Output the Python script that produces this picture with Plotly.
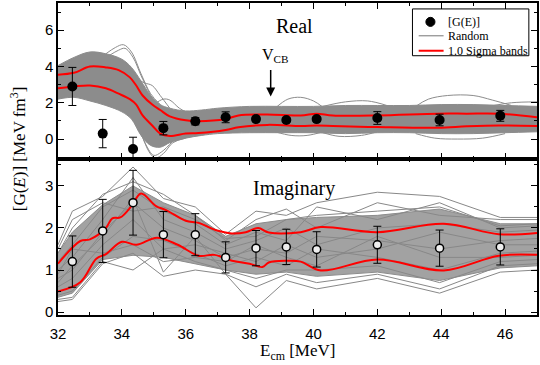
import plotly.graph_objects as go
from plotly.subplots import make_subplots

# measured points (energies shared by both panels)
energies = [32.45, 33.4, 34.35, 35.3, 36.3, 37.25, 38.2, 39.15, 40.1, 42.0, 43.95, 45.85]
real_vals = [2.9, 0.3, -0.55, 0.6, 0.98, 1.2, 1.1, 1.05, 1.1, 1.16, 1.05, 1.28]
real_errs = [1.05, 0.78, 0.65, 0.37, 0.2, 0.3, 0.12, 0.12, 0.12, 0.35, 0.32, 0.3]
imag_vals = [1.2, 1.93, 2.6, 1.84, 1.84, 1.3, 1.52, 1.55, 1.49, 1.6, 1.52, 1.55]
imag_errs = [0.61, 0.75, 0.77, 0.55, 0.5, 0.37, 0.42, 0.42, 0.42, 0.44, 0.43, 0.43]

# 1 sigma bands, real part
red_real_x = [32.0, 32.5, 33.0, 33.5, 33.9, 34.25, 34.45, 34.65, 34.95, 35.2, 35.5, 36.0, 36.4,
              37.25, 37.65, 38.55, 39.6, 40.1, 40.6, 42.0, 43.9, 44.8, 45.8, 47.0]
red_real_hi = [3.55, 3.65, 4.0, 3.95, 3.8, 3.4, 2.95, 2.4, 1.9, 1.6, 1.25, 1.03, 0.98,
               1.1, 1.3, 1.35, 1.3, 1.4, 1.3, 1.3, 1.4, 1.4, 1.4, 1.2]
red_real_lo = [2.8, 2.9, 2.95, 2.8, 2.5, 2.2, 1.9, 1.3, 0.75, 0.3, 0.17, 0.3, 0.33,
               0.5, 0.65, 0.78, 0.72, 0.74, 0.72, 0.66, 0.62, 0.7, 0.75, 0.72]

# 1 sigma bands, imaginary part
red_imag_hi_x = [32.0, 32.7, 33.0, 33.5, 33.7, 33.95, 34.3, 34.6, 35.07, 35.4, 36.0, 36.4, 36.93,
                 37.44, 37.88, 38.27, 38.6, 39.6, 40.23, 42.0, 44.08, 45.8, 47.0]
red_imag_hi = [1.15, 1.69, 1.73, 2.0, 2.23, 2.25, 2.52, 2.82, 2.52, 2.42, 2.17, 2.12, 1.95,
               1.87, 1.9, 2.0, 1.89, 1.9, 2.02, 1.9, 2.1, 1.85, 1.88]
red_imag_lo_x = [32.0, 32.7, 33.2, 33.5, 34.0, 34.45, 35.1, 35.75, 36.4, 36.9, 37.45, 38.0, 38.4,
                 38.6, 39.15, 39.6, 40.23, 42.0, 44.08, 45.8, 47.0]
red_imag_lo = [0.49, 0.71, 1.27, 1.38, 1.67, 1.6, 1.77, 1.6, 1.34, 1.36, 1.22, 1.15, 1.07,
               1.18, 1.22, 1.2, 0.99, 1.25, 0.99, 1.34, 1.36]

# dense part of the random curves, real part
band_real_x = [32.0, 32.5, 33.0, 33.5, 34.0, 34.3, 34.6, 34.9, 35.2, 35.5, 36.0, 36.5,
               37.0, 38.0, 39.0, 40.0, 41.0, 42.0, 43.0, 44.0, 45.0, 46.0, 47.0]
band_real_hi = [4.05, 4.5, 4.8, 4.7, 4.4, 3.95, 3.2, 2.4, 1.9, 1.7, 1.55, 1.6,
                1.7, 1.8, 1.8, 1.8, 1.85, 1.85, 1.85, 1.9, 1.9, 1.85, 1.8]
band_real_lo = [2.2, 2.3, 2.1, 1.85, 1.5, 1.1, 0.2, -0.35, -0.45, -0.2, 0.05, 0.2,
                0.3, 0.35, 0.35, 0.35, 0.3, 0.35, 0.35, 0.3, 0.3, 0.35, 0.4]

# individual random curves that stick out of the dense band (real part)
real_strays = [
    ([33.5, 33.8, 34.05, 34.3, 34.6, 34.9, 35.2], [4.7, 5.05, 5.2, 4.8, 3.6, 2.5, 1.9]),
    ([33.6, 33.9, 34.1, 34.35, 34.6, 34.9], [4.6, 4.9, 5.0, 4.5, 3.5, 2.4]),
    ([34.4, 34.7, 34.95, 35.2, 35.5], [3.4, 3.1, 2.95, 2.4, 1.7]),
    ([35.0, 35.3, 35.5, 35.8, 36.1], [1.9, 2.2, 2.15, 1.7, 1.4]),
    ([34.3, 34.6, 34.85, 35.05, 35.3, 35.6, 36.0], [1.2, 0.3, -0.7, -1.05, -0.8, -0.2, 0.05]),
    ([34.5, 34.75, 35.0, 35.25, 35.6], [0.8, -0.3, -0.9, -0.7, -0.1]),
    ([38.8, 39.2, 39.6, 40.0, 40.3], [1.7, 2.2, 2.3, 2.1, 1.75]),
    ([40.3, 41.0, 41.7, 42.3], [1.8, 2.05, 2.1, 1.85]),
    ([43.2, 43.6, 44.2, 45.0, 45.6, 46.2], [1.8, 2.2, 2.4, 2.4, 2.15, 1.85]),
    ([38.8, 39.3, 39.8, 40.3], [0.4, 0.2, 0.2, 0.4]),
    ([40.3, 40.8, 41.5, 42.0], [0.35, 0.15, 0.2, 0.4]),
    ([43.2, 43.8, 44.5, 45.3, 46.0], [0.3, 0.05, 0.0, 0.05, 0.3]),
    ([45.5, 46.2, 47.0], [1.8, 2.0, 2.05]),
]

# random curves, imaginary part (straight segments between the energies)
imag_x = [32.0, 32.45, 33.4, 34.35, 35.3, 36.3, 37.25, 38.2, 39.15, 40.1, 42.0, 43.95, 45.85, 47.0]
band_imag_hi = [1.4, 1.9, 2.55, 3.0, 2.6, 2.3, 1.8, 2.1, 2.2, 2.25, 2.3, 2.45, 2.1, 2.1]
band_imag_lo = [0.35, 0.45, 1.25, 1.35, 1.3, 1.15, 1.0, 0.9, 0.95, 0.85, 0.95, 0.75, 1.05, 1.1]
imag_curves = [
    [1.6, 2.4, 2.75, 3.45, 2.7, 2.5, 1.85, 2.4, 2.3, 2.6, 2.85, 2.75, 2.25, 2.25],
    [1.4, 2.0, 2.8, 3.1, 2.8, 2.3, 1.7, 2.2, 2.45, 2.0, 2.6, 2.3, 2.2, 2.2],
    [1.2, 1.6, 2.5, 2.9, 2.4, 2.1, 1.6, 1.9, 1.7, 2.5, 2.2, 2.6, 2.0, 2.05],
    [1.0, 1.3, 2.2, 3.2, 2.2, 1.9, 1.5, 1.7, 2.0, 1.6, 2.0, 2.1, 1.9, 1.95],
    [0.8, 1.0, 1.9, 2.6, 2.0, 1.7, 1.3, 1.5, 1.4, 1.8, 1.7, 1.5, 1.7, 1.75],
    [0.6, 0.8, 1.6, 2.2, 1.5, 1.6, 1.4, 1.2, 1.6, 1.3, 1.5, 1.9, 1.6, 1.6],
    [0.4, 0.5, 1.3, 1.8, 1.7, 1.4, 1.1, 1.3, 1.1, 1.5, 1.3, 1.0, 1.4, 1.45],
    [0.3, 0.35, 1.2, 1.0, 1.5, 1.2, 1.0, 0.8, 1.0, 1.0, 1.1, 0.7, 1.2, 1.25],
    [0.25, 0.3, 1.15, 1.4, 0.85, 1.0, 0.9, 0.1, 0.75, 0.55, 0.8, 0.45, 0.95, 1.0],
    [1.5, 2.2, 2.6, 2.4, 2.5, 2.2, 1.75, 1.8, 2.2, 2.3, 2.4, 2.5, 2.05, 2.1],
    [0.9, 1.5, 1.4, 1.6, 1.2, 1.3, 1.2, 1.6, 1.3, 1.1, 1.8, 1.3, 1.3, 1.35],
    [0.7, 1.1, 1.8, 2.7, 0.95, 1.8, 0.9, 0.6, 0.9, 0.7, 0.9, 0.55, 1.1, 1.15],
]

legend_labels = ["[G(E)]", "Random", "1.0 Sigma bands"]

GRAY = "#8c8c8c"
RED = "#ff0000"
SERIF = "Liberation Serif"
SANS = "Liberation Sans"

fig = make_subplots(rows=2, cols=1, shared_xaxes=True, vertical_spacing=0)

# ---- top panel: real part
fig.add_trace(go.Scatter(x=band_real_x, y=band_real_lo, mode="lines", line=dict(color=GRAY, width=1, shape="spline"),
                         hoverinfo="skip"), row=1, col=1)
fig.add_trace(go.Scatter(x=band_real_x, y=band_real_hi, mode="lines", line=dict(color=GRAY, width=1, shape="spline"),
                         fill="tonexty", fillcolor=GRAY, hoverinfo="skip"), row=1, col=1)
for sx, sy in real_strays:
    fig.add_trace(go.Scatter(x=sx, y=sy, mode="lines", line=dict(color=GRAY, width=1, shape="spline"),
                             hoverinfo="skip"), row=1, col=1)
for ys in (red_real_hi, red_real_lo):
    fig.add_trace(go.Scatter(x=red_real_x, y=ys, mode="lines", line=dict(color=RED, width=2, shape="spline"),
                             hoverinfo="skip"), row=1, col=1)
fig.add_trace(go.Scatter(x=energies, y=real_vals, mode="markers",
                         marker=dict(symbol="circle", size=10, color="black"),
                         error_y=dict(type="data", array=real_errs, color="black", thickness=1, width=4)),
              row=1, col=1)

# ---- bottom panel: imaginary part
fig.add_trace(go.Scatter(x=imag_x, y=band_imag_lo, mode="lines", line=dict(color=GRAY, width=1),
                         hoverinfo="skip"), row=2, col=1)
fig.add_trace(go.Scatter(x=imag_x, y=band_imag_hi, mode="lines", line=dict(color=GRAY, width=1),
                         fill="tonexty", fillcolor="#a2a2a2", hoverinfo="skip"), row=2, col=1)
for ys in imag_curves:
    fig.add_trace(go.Scatter(x=imag_x, y=ys, mode="lines", line=dict(color="#888888", width=1),
                             hoverinfo="skip"), row=2, col=1)
fig.add_trace(go.Scatter(x=red_imag_hi_x, y=red_imag_hi, mode="lines",
                         line=dict(color=RED, width=2, shape="spline"), hoverinfo="skip"), row=2, col=1)
fig.add_trace(go.Scatter(x=red_imag_lo_x, y=red_imag_lo, mode="lines",
                         line=dict(color=RED, width=2, shape="spline"), hoverinfo="skip"), row=2, col=1)
fig.add_trace(go.Scatter(x=energies, y=imag_vals, mode="markers",
                         marker=dict(symbol="circle", size=8, color="#eeeeee", line=dict(color="black", width=1.5)),
                         error_y=dict(type="data", array=imag_errs, color="black", thickness=1, width=4)),
              row=2, col=1)

axis_common = dict(showline=True, linecolor="black", linewidth=1.5, mirror="ticks", ticks="inside",
                   ticklen=6, tickwidth=1.2, tickcolor="black", showgrid=False, zeroline=False,
                   tickfont=dict(family=SANS, size=15, color="black"))
fig.update_xaxes(range=[32, 47], dtick=2, tick0=32, ticklabelstandoff=4,
                 minor=dict(dtick=1, ticks="inside", ticklen=3, tickcolor="black"), **axis_common)
fig.update_xaxes(showticklabels=False, row=1, col=1)
fig.update_yaxes(range=[-1.1, 7.5], dtick=2, tick0=0, domain=[0.5, 1.0],
                 minor=dict(dtick=1, ticks="inside", ticklen=3, tickcolor="black"), row=1, col=1, **axis_common)
fig.update_yaxes(range=[-0.07, 3.64], dtick=1, tick0=0, domain=[0.0, 0.5],
                 minor=dict(dtick=0.5, ticks="inside", ticklen=3, tickcolor="black"), row=2, col=1, **axis_common)

fig.add_annotation(x=39.42, y=6.25, xref="x", yref="y", text="Real", showarrow=False,
                   xanchor="center", yanchor="middle", font=dict(family=SERIF, size=20, color="black"))
fig.add_annotation(x=39.39, y=2.95, xref="x2", yref="y2", text="Imaginary", showarrow=False,
                   xanchor="center", yanchor="middle", font=dict(family=SERIF, size=20, color="black"))
fig.add_annotation(x=38.8, y=4.6, xref="x", yref="y", text="V<sub>CB</sub>", showarrow=False,
                   xanchor="center", yanchor="middle", font=dict(family=SERIF, size=16, color="black"))
fig.add_annotation(x=38.66, y=2.35, xref="x", yref="y", text="", showarrow=True, ax=0, ay=-28,
                   arrowhead=2, arrowsize=1.2, arrowwidth=1.5, arrowcolor="black")
fig.add_annotation(x=-0.083, y=0.532, xref="paper", yref="paper", text="[G(<i>E</i>)] [MeV fm<sup>3</sup>]",
                   textangle=-90, showarrow=False, xanchor="center", yanchor="middle",
                   font=dict(family=SERIF, size=17, color="black"))
fig.add_annotation(x=0.5, y=-0.118, xref="paper", yref="paper", text="E<sub>cm</sub> [MeV]",
                   showarrow=False, xanchor="center", yanchor="middle",
                   font=dict(family=SERIF, size=17, color="black"))

# legend box drawn by hand (plotly's own legend rows are too tall for this layout)
fig.add_shape(type="rect", xref="paper", yref="paper", x0=0.740, x1=0.983, y0=0.831, y1=0.981,
              line=dict(color="black", width=1), fillcolor="white", layer="above")
fig.add_shape(type="circle", xref="paper", yref="paper", x0=0.768, x1=0.787, y0=0.925, y1=0.954,
              line=dict(color="black", width=1), fillcolor="black", layer="above")
fig.add_shape(type="line", xref="paper", yref="paper", x0=0.753, x1=0.805, y0=0.895, y1=0.895,
              line=dict(color=GRAY, width=1.2), layer="above")
fig.add_shape(type="line", xref="paper", yref="paper", x0=0.753, x1=0.805, y0=0.847, y1=0.847,
              line=dict(color=RED, width=2), layer="above")
for label, ly in zip(legend_labels, [0.9395, 0.895, 0.847]):
    fig.add_annotation(x=0.811, y=ly, xref="paper", yref="paper", text=label, showarrow=False,
                       xanchor="left", yanchor="middle", font=dict(family=SERIF, size=12, color="black"))

fig.update_layout(
    width=540, height=365,
    margin=dict(l=58, r=1, t=1, b=50),
    plot_bgcolor="white", paper_bgcolor="white",
    showlegend=False,
)

# drop the page's default 8px body margin so the figure sits at the window corner
fig.write_html("out.html", config={"displayModeBar": False},
               post_script="document.body.style.margin='0';")
